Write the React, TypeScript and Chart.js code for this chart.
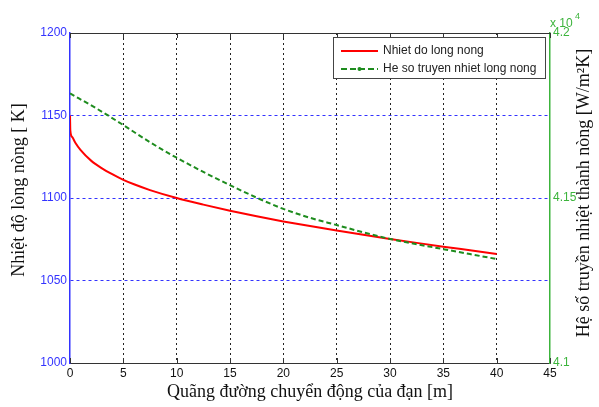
import React, { useEffect, useRef } from "react";
import { Chart, registerables } from "chart.js";

Chart.register(...registerables);

// Red series: Nhiet do long nong [K]
const redX = [0, 0.03, 0.2, 0.5, 1, 2, 3, 4, 5, 6, 7.5, 10, 12.5, 15, 17.5, 20, 22.5, 25, 27.5, 30, 32.5, 35, 37.5, 40];
const redY = [1150, 1141, 1137, 1133.5, 1129, 1122.5, 1118, 1114.3, 1111, 1108.3, 1104.8, 1100, 1096, 1092.3, 1088.9, 1085.8, 1083, 1080.3, 1077.7, 1075.2, 1072.8, 1070.5, 1068.3, 1066.1];

// Green series: He so truyen nhiet long nong [W/m^2K]
const greenX = [0, 2.5, 5, 7.5, 10, 12.5, 15, 17.5, 20, 22.5, 25, 27.5, 30, 32.5, 35, 37.5, 40];
const greenY = [41817, 41771, 41721, 41669, 41622, 41579, 41539, 41501, 41467, 41440, 41418, 41396, 41376, 41360, 41345, 41330, 41315];

const xTicks = [0, 5, 10, 15, 20, 25, 30, 35, 40, 45];
const leftTicks = [1000, 1050, 1100, 1150, 1200];
const rightTicks = [41000, 41500, 42000];

const legendLabels = ["Nhiet do long nong", "He so truyen nhiet long nong"];
const xTitle = "Quãng đường chuyển động của đạn [m]";
const leftTitle = "Nhiệt độ lòng nòng [ K]";
const rightTitle = "Hệ số truyền nhiệt thành nòng [W/m²K]";

const RED = "#ff0000";
const GREEN = "#1e8c1e";
const BLUE = "#3333ff";
const AXGREEN = "#3cb43c";

const decorPlugin = {
  id: "decor",
  afterDraw(chart: any) {
    const { ctx, chartArea } = chart;
    const { left, right, top, bottom } = chartArea;
    const xs = chart.scales.x;
    ctx.save();
    // top border
    ctx.strokeStyle = "#333";
    ctx.lineWidth = 1;
    ctx.beginPath();
    ctx.moveTo(left, top + 0.5);
    ctx.lineTo(right, top + 0.5);
    ctx.stroke();
    // tick marks inward top/bottom
    xTicks.forEach((t) => {
      const px = Math.round(xs.getPixelForValue(t)) + 0.5;
      ctx.beginPath();
      ctx.moveTo(px, top);
      ctx.lineTo(px, top + 5);
      ctx.moveTo(px, bottom);
      ctx.lineTo(px, bottom - 5);
      ctx.stroke();
    });
    // titles
    ctx.fillStyle = "#111";
    ctx.font = '18px "Liberation Serif", serif';
    ctx.textAlign = "center";
    ctx.textBaseline = "middle";
    ctx.fillText(xTitle, (left + right) / 2, 392);
    ctx.save();
    ctx.translate(19, 190);
    ctx.rotate(-Math.PI / 2);
    ctx.fillText(leftTitle, 0, 0);
    ctx.restore();
    ctx.save();
    ctx.translate(584, 193);
    ctx.rotate(-Math.PI / 2);
    ctx.fillText(rightTitle, 0, 0);
    ctx.restore();
    // exponent
    ctx.fillStyle = AXGREEN;
    ctx.textAlign = "left";
    ctx.textBaseline = "alphabetic";
    ctx.font = '12px "Liberation Sans", Arial, sans-serif';
    ctx.fillText("x 10", 550, 27);
    ctx.font = '9px "Liberation Sans", Arial, sans-serif';
    ctx.fillText("4", 575, 19);
    // legend
    const lx = 333, ly = 37, lw = 212, lh = 41;
    ctx.fillStyle = "#fff";
    ctx.fillRect(lx, ly, lw, lh);
    ctx.strokeStyle = "#444";
    ctx.lineWidth = 1;
    ctx.strokeRect(lx + 0.5, ly + 0.5, lw, lh);
    ctx.font = '12px "Liberation Sans", Arial, sans-serif';
    ctx.textBaseline = "middle";
    const rows = [51, 69];
    ctx.strokeStyle = RED;
    ctx.lineWidth = 2;
    ctx.setLineDash([]);
    ctx.beginPath();
    ctx.moveTo(341, rows[0]);
    ctx.lineTo(378, rows[0]);
    ctx.stroke();
    ctx.strokeStyle = GREEN;
    ctx.setLineDash([6, 3]);
    ctx.beginPath();
    ctx.moveTo(341, rows[1]);
    ctx.lineTo(378, rows[1]);
    ctx.stroke();
    ctx.setLineDash([]);
    ctx.fillStyle = GREEN;
    ctx.beginPath();
    ctx.arc(359.5, rows[1], 2, 0, Math.PI * 2);
    ctx.fill();
    ctx.fillStyle = "#222";
    ctx.fillText(legendLabels[0], 383, rows[0]);
    ctx.fillText(legendLabels[1], 383, rows[1]);
    ctx.restore();
  },
};

export default function App() {
  const ref = useRef<HTMLCanvasElement>(null);
  useEffect(() => {
    document.body.style.margin = "0";
    const ctx = ref.current!.getContext("2d")!;
    const chart = new Chart(ctx, {
      type: "line",
      data: {
        datasets: [
          {
            label: legendLabels[0],
            data: redX.map((x, i) => ({ x, y: redY[i] })),
            borderColor: RED,
            borderWidth: 2,
            pointRadius: 0,
            yAxisID: "y",
            cubicInterpolationMode: "monotone",
            order: 1,
          },
          {
            label: legendLabels[1],
            data: greenX.map((x, i) => ({ x, y: greenY[i] })),
            borderColor: GREEN,
            borderWidth: 2,
            borderDash: [5, 3],
            pointRadius: 0,
            yAxisID: "y1",
            cubicInterpolationMode: "monotone",
            order: 0,
          },
        ],
      },
      options: {
        animation: false,
        responsive: false,
        maintainAspectRatio: false,
        layout: { padding: { left: 0, right: 0, top: 33, bottom: 0 } },
        plugins: { legend: { display: false }, tooltip: { enabled: false } },
        scales: {
          x: {
            type: "linear",
            min: 0,
            max: 45,
            afterBuildTicks: (s: any) => {
              s.ticks = xTicks.map((v) => ({ value: v }));
            },
            afterFit: (s: any) => {
              s.height = 44;
            },
            ticks: {
              color: "#111",
              padding: 3,
              maxRotation: 0,
              font: { family: '"Liberation Sans", Arial, sans-serif', size: 12 },
              callback: (v: any) => String(v),
            },
            grid: {
              drawTicks: false,
              color: (c: any) => (c.tick && (c.tick.value === 0 || c.tick.value === 45) ? "rgba(0,0,0,0)" : "#222"),
              lineWidth: 1,
            },
            border: { display: true, color: "#333", width: 1, dash: [2, 3] },
          },
          y: {
            type: "linear",
            position: "left",
            min: 1000,
            max: 1200,
            afterBuildTicks: (s: any) => {
              s.ticks = leftTicks.map((v) => ({ value: v }));
            },
            afterFit: (s: any) => {
              s.width = 70;
            },
            ticks: {
              color: BLUE,
              padding: 3,
              font: { family: '"Liberation Sans", Arial, sans-serif', size: 12 },
              callback: (v: any) => String(v),
            },
            grid: {
              drawTicks: false,
              color: (c: any) => (c.tick && (c.tick.value === 1000 || c.tick.value === 1200) ? "rgba(0,0,0,0)" : BLUE),
              lineWidth: 1,
            },
            border: { display: true, color: BLUE, width: 1.5, dash: [3, 3] },
          },
          y1: {
            type: "linear",
            position: "right",
            min: 41000,
            max: 42000,
            afterBuildTicks: (s: any) => {
              s.ticks = rightTicks.map((v) => ({ value: v }));
            },
            afterFit: (s: any) => {
              s.width = 49;
            },
            ticks: {
              color: AXGREEN,
              padding: 3,
              font: { family: '"Liberation Sans", Arial, sans-serif', size: 12 },
              callback: (v: any) => String(Number(v) / 10000),
            },
            grid: { drawOnChartArea: false, drawTicks: false },
            border: { display: true, color: AXGREEN, width: 1.5 },
          },
        },
      },
      plugins: [decorPlugin],
    } as any);
    return () => chart.destroy();
  }, []);
  return (
    <div style={{ position: "absolute", left: 0, top: 0, width: 599, height: 407, background: "#fff" }}>
      <canvas ref={ref} width={599} height={407} style={{ width: 599, height: 407, display: "block" }} />
    </div>
  );
}
